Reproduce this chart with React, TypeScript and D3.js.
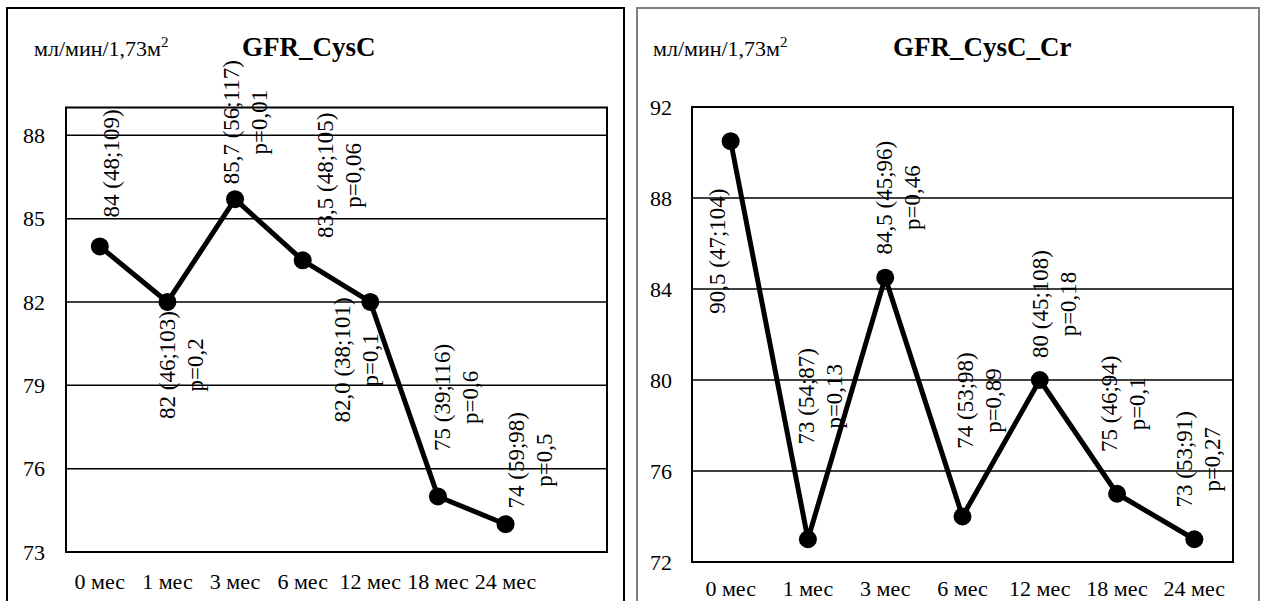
import React from "react";
import * as d3 from "d3";

// ---- data ----
const months = ["0 мес", "1 мес", "3 мес", "6 мес", "12 мес", "18 мес", "24 мес"];

const cysCValues = [84, 82, 85.7, 83.5, 82, 75, 74];
const cysCRanges = ["84 (48;109)", "82 (46;103)", "85,7 (56;117)", "83,5 (48;105)", "82,0 (38;101)", "75 (39;116)", "74 (59;98)"];
const cysCPvals = ["", "p=0,2", "p=0,01", "p=0,06", "p=0,1", "p=0,6", "p=0,5"];
const cysCTicks = [73, 76, 79, 82, 85, 88];
const cysCDomain = [73, 89];

const cysCCrValues = [90.5, 73, 84.5, 74, 80, 75, 73];
const cysCCrRanges = ["90,5 (47;104)", "73 (54;87)", "84,5 (45;96)", "74 (53;98)", "80 (45;108)", "75 (46;94)", "73 (53;91)"];
const cysCCrPvals = ["", "p=0,13", "p=0,46", "p=0,89", "p=0,18", "p=0,1", "p=0,27"];
const cysCCrTicks = [72, 76, 80, 84, 88, 92];
const cysCCrDomain = [72, 92];

const unitsText = "мл/мин/1,73м";

// ---- layout (label nudges: [dx, dy] of first line relative to the point) ----
const leftNudge = [[19, -83], [8, 63], [4, -77], [30, -85], [-20, 58], [12, -99], [18, -64]];
const rightNudge = [[-6, 110], [6, -143], [7, -80], [10, -116], [8, -76], [0, -90], [-2, -80]];

const FONT = "'Liberation Serif', 'Times New Roman', serif";

type PanelProps = {
  box: { x0: number; x1: number; y0: number; stroke: string };
  plot: { left: number; right: number; top: number; bottom: number };
  slots: number;
  values: number[];
  ranges: string[];
  pvals: string[];
  ticks: number[];
  domain: number[];
  nudge: number[][];
  title: string;
  titleX: number;
  unitsX: number;
  tickRight: number;
  xLabelY: number;
};

function Panel(p: PanelProps) {
  const domainKeys = d3.range(p.slots).map((i) => String(i));
  const x = d3.scaleBand<string>().domain(domainKeys).range([p.plot.left, p.plot.right]).padding(0);
  const y = d3.scaleLinear().domain(p.domain).range([p.plot.bottom, p.plot.top]);
  const cx = (i: number) => (x(String(i)) as number) + x.bandwidth() / 2;
  const line = d3
    .line<number>()
    .x((_, i) => cx(i))
    .y((d) => y(d));

  return (
    <g>
      <rect
        x={p.box.x0}
        y={p.box.y0}
        width={p.box.x1 - p.box.x0}
        height={700}
        fill="#fff"
        stroke={p.box.stroke}
        strokeWidth={2}
      />
      <text x={p.unitsX} y={56} fontFamily={FONT} fontSize={22} fill="#000">
        {unitsText}
        <tspan fontSize={15} dy={-9}>2</tspan>
      </text>
      <text x={p.titleX} y={56} fontFamily={FONT} fontSize={27} fontWeight="bold" fill="#000">
        {p.title}
      </text>
      {p.ticks.map((t) => (
        <g key={t}>
          <line x1={p.plot.left} x2={p.plot.right} y1={y(t)} y2={y(t)} stroke="#000" strokeWidth={1.5} />
          <text
            x={p.tickRight}
            y={y(t)}
            dy="0.35em"
            textAnchor="end"
            fontFamily={FONT}
            fontSize={22}
            fill="#000"
          >
            {t}
          </text>
        </g>
      ))}
      <rect
        x={p.plot.left}
        y={p.plot.top}
        width={p.plot.right - p.plot.left}
        height={p.plot.bottom - p.plot.top}
        fill="none"
        stroke="#000"
        strokeWidth={2}
      />
      {months.map((m, i) => (
        <text
          key={m}
          x={cx(i)}
          y={p.xLabelY}
          textAnchor="middle"
          fontFamily={FONT}
          fontSize={22}
          fill="#000"
        >
          {m}
        </text>
      ))}
      <path d={line(p.values) || ""} fill="none" stroke="#000" strokeWidth={5} strokeLinejoin="round" />
      {p.values.map((v, i) => (
        <circle key={i} cx={cx(i)} cy={y(v)} r={9} fill="#000" />
      ))}
      {p.values.map((v, i) => {
        const [dx, dy] = p.nudge[i];
        const bx = cx(i) + dx;
        const by = y(v) + dy;
        const lines = [p.ranges[i], p.pvals[i]].filter((s) => s !== "");
        return (
          <g key={"l" + i}>
            {lines.map((s, k) => (
              <text
                key={k}
                transform={`translate(${bx + k * 28},${by}) rotate(-90)`}
                textAnchor="middle"
                fontFamily={FONT}
                fontSize={23}
                fill="#000"
              >
                {s}
              </text>
            ))}
          </g>
        );
      })}
    </g>
  );
}

export default function App() {
  return (
    <svg
      width={1262}
      height={601}
      style={{ position: "absolute", left: 0, top: 0, display: "block", background: "#fff" }}
    >
      <rect x={0} y={0} width={1262} height={601} fill="#fff" />
      <Panel
        box={{ x0: 7, x1: 624, y0: 8, stroke: "#000" }}
        plot={{ left: 66, right: 607, top: 107.5, bottom: 552 }}
        slots={8}
        values={cysCValues}
        ranges={cysCRanges}
        pvals={cysCPvals}
        ticks={cysCTicks}
        domain={cysCDomain}
        nudge={leftNudge}
        title="GFR_CysC"
        titleX={242}
        unitsX={34}
        tickRight={45}
        xLabelY={589}
      />
      <Panel
        box={{ x0: 637, x1: 1259, y0: 8, stroke: "#808080" }}
        plot={{ left: 692, right: 1233, top: 107, bottom: 562 }}
        slots={7}
        values={cysCCrValues}
        ranges={cysCCrRanges}
        pvals={cysCCrPvals}
        ticks={cysCCrTicks}
        domain={cysCCrDomain}
        nudge={rightNudge}
        title="GFR_CysC_Cr"
        titleX={893}
        unitsX={653}
        tickRight={672}
        xLabelY={596}
      />
    </svg>
  );
}
